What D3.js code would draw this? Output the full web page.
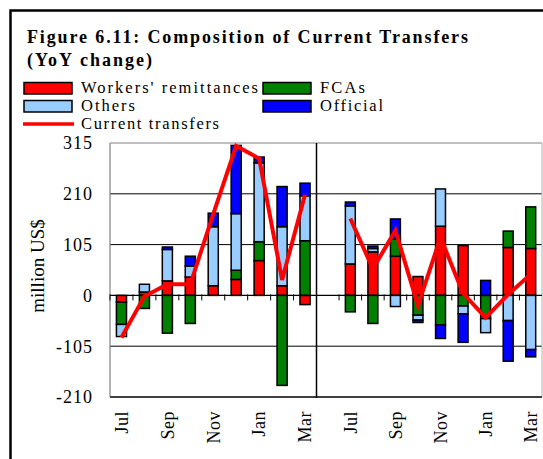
<!DOCTYPE html>
<html><head><meta charset="utf-8">
<script src="https://cdn.jsdelivr.net/npm/d3@7"></script>
<style>
body{margin:0;background:#fff}
svg{display:block}
text{font-family:"Liberation Serif","Times New Roman",serif;fill:#000}
</style>
</head><body><svg id="c" width="543" height="459"></svg>
<script>
const categories = ["Jul","Aug","Sep","Oct","Nov","Dec","Jan","Feb","Mar","","Jul","Aug","Sep","Oct","Nov","Dec","Jan","Feb","Mar"];
const workers  = [-14, 7, 30, 38, 20, 33, 72, 20, -19, null, 65, 90, 81, 39, 143, 103, 0, 99, 97];
const fcas     = [-46, -27, -78, -58, 0, 19, 39, -186, 113, null, -34, -58, 36, -41, -61, -22, -48, 34, 86];
const others   = [-25, 16, 65, 23, 122, 117, 163, 122, 93, null, 120, 7, -23, -10, 77, -16, -29, -52, -112];
const official = [0, 0, 5, 20, 28, 141, 12, 83, 26, null, 8, 5, 41, -5, -28, -59, 31, -84, -15];
const currentTransfers = [-87, -2, 23, 23, 168, 309, 283, 32, 208, null, 159, 55, 134, -21, 120, 4, -46, 2, 44];
const tickLabels = ["Jul","Sep","Nov","Jan","Mar"];
const yTicks = [-210, -105, 0, 105, 210, 315];
const seriesNames = ["Workers' remittances","FCAs","Others","Official"];
const seriesKeys = ["workers","fcas","others","official"];
const colors = {workers:"#FF0000", fcas:"#008000", others:"#99CCFF", official:"#0000FF"};

(function(){
const svg = d3.select("#c");
svg.append("rect").attr("width",543).attr("height",459).attr("fill","#fff");
svg.append("rect").attr("x",10.5).attr("y",10.5).attr("width",600).attr("height",600)
  .attr("fill","none").attr("stroke","#000").attr("stroke-width",2.5);

svg.append("text").attr("x",27).attr("y",43).attr("font-size",18).attr("font-weight","bold")
  .attr("textLength",441).attr("lengthAdjust","spacing").text("Figure 6.11: Composition of  Current Transfers");
svg.append("text").attr("x",27).attr("y",66).attr("font-size",18).attr("font-weight","bold")
  .attr("textLength",125).attr("lengthAdjust","spacing").text("(YoY change)");

const legendItems = [
  {key:"workers", label:seriesNames[0], x:24, y:82.5, tl:177},
  {key:"fcas", label:seriesNames[1], x:263, y:82.5, tl:45},
  {key:"others", label:seriesNames[2], x:24, y:100.5, tl:54},
  {key:"official", label:seriesNames[3], x:263, y:100.5, tl:63}
];
legendItems.forEach(it=>{
  svg.append("rect").attr("x",it.x).attr("y",it.y).attr("width",48).attr("height",11.5)
    .attr("fill",colors[it.key]).attr("stroke","#000").attr("stroke-width",1.5);
  svg.append("text").attr("x",it.x+57).attr("y",it.y+10.5).attr("font-size",16.5)
    .attr("textLength",it.tl).attr("lengthAdjust","spacing").text(it.label);
});
svg.append("line").attr("x1",23).attr("x2",74).attr("y1",124).attr("y2",124)
  .attr("stroke","#FF0000").attr("stroke-width",3.5);
svg.append("text").attr("x",81).attr("y",129).attr("font-size",16.5)
  .attr("textLength",138).attr("lengthAdjust","spacing").text("Current transfers");

const pLeft = 110, pRight = 542, sepX = 316.5, pTop = 143, pBottom = 397;
const y = d3.scaleLinear().domain([-210,315]).range([pBottom, pTop]);
const idx = categories.map((d,i)=>i);
const x1 = d3.scaleBand().domain(idx.slice(0,9)).range([pLeft, sepX]).paddingInner(0.56).paddingOuter(0.28);
const x2 = d3.scaleBand().domain(idx.slice(9)).range([sepX, pRight]).paddingInner(0.56).paddingOuter(0.28);
const xs = i => i < 9 ? x1 : x2;
const xb = i => xs(i)(i);
const bw = i => xs(i).bandwidth();
const xc = i => xb(i) + bw(i)/2;
const step = i => xs(i).step();

const g = svg.append("g");
yTicks.forEach(v=>{
  if (v===0) return;
  g.append("line").attr("x1",pLeft).attr("x2",pRight).attr("y1",y(v)).attr("y2",y(v))
    .attr("stroke", (v===315)?"#808080":"#000").attr("stroke-width",1);
});
g.append("line").attr("x1",pLeft).attr("x2",pLeft).attr("y1",pTop).attr("y2",pBottom).attr("stroke","#808080").attr("stroke-width",1.2);
g.append("line").attr("x1",pRight).attr("x2",pRight).attr("y1",pTop).attr("y2",pBottom).attr("stroke","#b0b0b0").attr("stroke-width",1);

yTicks.forEach(v=>{
  svg.append("text").attr("x",93).attr("y",y(v)).attr("dy","0.35em").attr("text-anchor","end")
    .attr("font-size",18).attr("letter-spacing","1px").text(v);
});
svg.append("text").attr("transform","translate(44,266) rotate(-90)").attr("text-anchor","middle")
  .attr("font-size",19).text("million US$");

const rows = categories.map((c,i)=>({i, workers:workers[i]||0, fcas:fcas[i]||0, others:others[i]||0, official:official[i]||0, blank: workers[i]===null}));
const stacked = d3.stack().keys(seriesKeys).offset(d3.stackOffsetDiverging)(rows);
stacked.forEach(s=>{
  svg.append("g").selectAll("rect").data(s.filter(d=>!d.data.blank && d[1]!==d[0])).join("rect")
    .attr("x", d=>xb(d.data.i)).attr("width", d=>bw(d.data.i))
    .attr("y", d=>y(Math.max(d[0],d[1]))).attr("height", d=>Math.abs(y(d[0])-y(d[1])))
    .attr("fill", colors[s.key]).attr("stroke","#000").attr("stroke-width",1.5);
});

svg.append("line").attr("x1",pLeft).attr("x2",pRight).attr("y1",y(0)).attr("y2",y(0)).attr("stroke","#000").attr("stroke-width",1.2);
idx.forEach(i=>{
  const xx = xb(i) - (step(i)-bw(i))/2;
  svg.append("line").attr("x1",xx).attr("x2",xx).attr("y1",y(0)-1).attr("y2",y(0)+5).attr("stroke","#000").attr("stroke-width",1);
});
svg.append("line").attr("x1",pLeft).attr("x2",pRight).attr("y1",pBottom).attr("y2",pBottom).attr("stroke","#000").attr("stroke-width",1.2);
svg.append("line").attr("x1",sepX).attr("x2",sepX).attr("y1",pTop).attr("y2",pBottom+1).attr("stroke","#000").attr("stroke-width",1.5);

const line = d3.line().defined(d=>d.v!==null).x(d=>xc(d.i)).y(d=>y(d.v));
svg.append("path").datum(currentTransfers.map((v,i)=>({i,v})))
  .attr("d", line).attr("fill","none").attr("stroke","#FF0000").attr("stroke-width",4).attr("stroke-linejoin","miter");

categories.forEach((c,i)=>{
  if (i===9 || !tickLabels.includes(c)) return;
  svg.append("text").attr("transform",`translate(${xc(i)},411) rotate(-90)`).attr("text-anchor","end")
    .attr("dy","0.35em").attr("font-size",18).attr("letter-spacing","0.5px").text(c);
});
})();
</script>
</body></html>
